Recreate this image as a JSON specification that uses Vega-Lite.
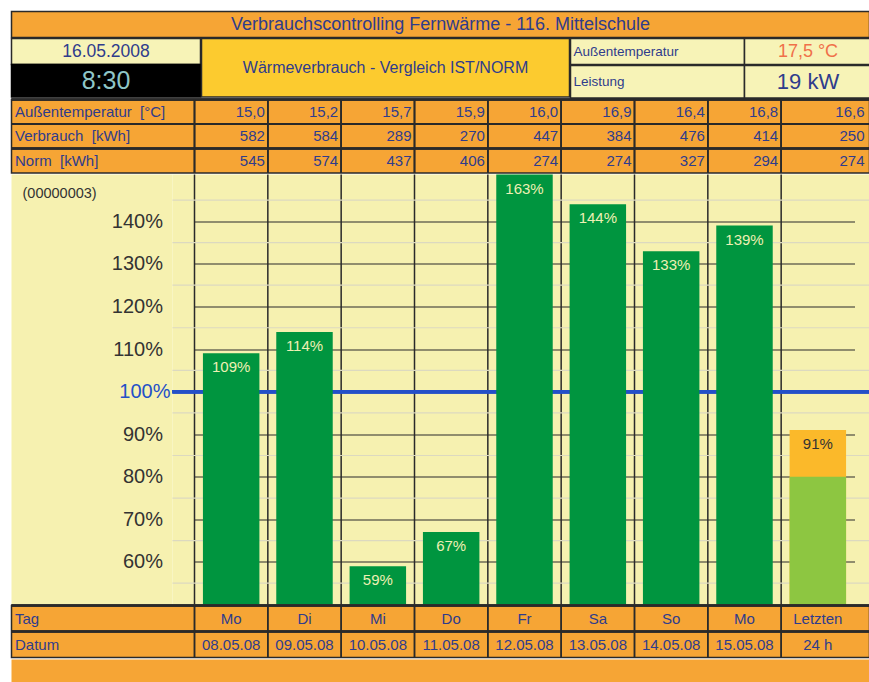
{
  "$schema": "https://vega.github.io/schema/vega-lite/v6.json",
  "padding": {"left": 9.5, "top": 10.5, "right": 0, "bottom": 0},
  "background": "white",
  "spacing": -3,
  "bounds": "full",
  "config": {
    "font": "Liberation Sans",
    "view": {"stroke": null},
    "text": {"font": "Liberation Sans"}
  },
  "datasets": {
    "days": [
      {"tag": "Mo", "dat": "08.05.08", "temp": "15,0", "verb": 582, "norm": 545, "pct": 1.09},
      {"tag": "Di", "dat": "09.05.08", "temp": "15,2", "verb": 584, "norm": 574, "pct": 1.14},
      {"tag": "Mi", "dat": "10.05.08", "temp": "15,7", "verb": 289, "norm": 437, "pct": 0.59},
      {"tag": "Do", "dat": "11.05.08", "temp": "15,9", "verb": 270, "norm": 406, "pct": 0.67},
      {"tag": "Fr", "dat": "12.05.08", "temp": "16,0", "verb": 447, "norm": 274, "pct": 1.63},
      {"tag": "Sa", "dat": "13.05.08", "temp": "16,9", "verb": 384, "norm": 274, "pct": 1.44},
      {"tag": "So", "dat": "14.05.08", "temp": "16,4", "verb": 476, "norm": 327, "pct": 1.33},
      {"tag": "Mo", "dat": "15.05.08", "temp": "16,8", "verb": 414, "norm": 294, "pct": 1.39},
      {"tag": "Letzten", "dat": "24 h", "temp": "16,6", "verb": 250, "norm": 274, "pct": 0.91, "teil": 0.80}
    ]
  },
  "vconcat": [
    {
      "width": 858, "height": 26,
      "view": {"fill": "#F6A535", "stroke": "#2a2a2a", "strokeWidth": 1.5},
      "data": {"values": [{"t": "Verbrauchscontrolling Fernwärme - 116. Mittelschule"}]},
      "mark": {"type": "text", "fontSize": 18, "color": "#2F3C8C"},
      "encoding": {"text": {"field": "t"}}
    },
    {
      "spacing": -3, "bounds": "full",
      "hconcat": [
        {
          "spacing": 0, "bounds": "flush",
          "vconcat": [
            {
              "width": 189, "height": 26,
              "view": {"fill": "#F7F3B7", "stroke": "#2a2a2a", "strokeWidth": 1.5},
              "data": {"values": [{"t": "16.05.2008"}]},
              "mark": {"type": "text", "fontSize": 17.5, "color": "#2F3C8C"},
              "encoding": {"text": {"field": "t"}}
            },
            {
              "width": 189, "height": 32.5,
              "view": {"fill": "#000000", "stroke": "#000000", "strokeWidth": 1.5},
              "data": {"values": [{"t": "8:30"}]},
              "mark": {"type": "text", "fontSize": 25, "color": "#8FC6C7"},
              "encoding": {"text": {"field": "t"}}
            }
          ]
        },
        {
          "width": 368, "height": 58.5,
          "view": {"fill": "#FCCB2F", "stroke": "#2a2a2a", "strokeWidth": 1.5},
          "data": {"values": [{"t": "Wärmeverbrauch - Vergleich IST/NORM"}]},
          "mark": {"type": "text", "fontSize": 16, "color": "#2F3C8C"},
          "encoding": {"text": {"field": "t"}}
        },
        {
          "spacing": -3, "bounds": "full",
          "vconcat": [
            {
              "spacing": 0, "bounds": "flush",
              "hconcat": [
                {
                  "width": 174, "height": 26,
                  "view": {"fill": "#F7F3B7", "stroke": "#2a2a2a", "strokeWidth": 1.5},
                  "data": {"values": [{"t": "Außentemperatur"}]},
                  "mark": {"type": "text", "fontSize": 13.5, "color": "#2F3C8C", "align": "left", "x": 3},
                  "encoding": {"text": {"field": "t"}}
                },
                {
                  "width": 127, "height": 26,
                  "view": {"fill": "#F7F3B7", "stroke": "#2a2a2a", "strokeWidth": 1.5},
                  "data": {"values": [{"t": "17,5 °C"}]},
                  "mark": {"type": "text", "fontSize": 18, "color": "#F0704A"},
                  "encoding": {"text": {"field": "t"}}
                }
              ]
            },
            {
              "spacing": 0, "bounds": "flush",
              "hconcat": [
                {
                  "width": 174, "height": 32.5,
                  "view": {"fill": "#F7F3B7", "stroke": "#2a2a2a", "strokeWidth": 1.5},
                  "data": {"values": [{"t": "Leistung"}]},
                  "mark": {"type": "text", "fontSize": 13.5, "color": "#2F3C8C", "align": "left", "x": 3},
                  "encoding": {"text": {"field": "t"}}
                },
                {
                  "width": 127, "height": 32.5,
                  "view": {"fill": "#F7F3B7", "stroke": "#2a2a2a", "strokeWidth": 1.5},
                  "data": {"values": [{"t": "19 kW"}]},
                  "mark": {"type": "text", "fontSize": 22, "color": "#2F3C8C"},
                  "encoding": {"text": {"field": "t"}}
                }
              ]
            }
          ]
        }
      ]
    },
    {
      "width": 858, "height": 73.5,
      "view": {"fill": "#F6A535", "stroke": "#2a2a2a", "strokeWidth": 1.5},
      "data": {"name": "days"},
      "transform": [{"fold": ["temp", "verb", "norm"], "as": ["row", "val"]}],
      "layer": [
        {
          "mark": {"type": "rule", "color": "#2a2a2a", "strokeWidth": 1.5},
          "encoding": {
            "y": {"field": "row", "type": "nominal", "bandPosition": 0,
              "scale": {"domain": ["temp", "verb", "norm"], "paddingInner": 0, "paddingOuter": 0}}
          }
        },
        {
          "mark": {"type": "rule", "color": "#2a2a2a", "strokeWidth": 1.5},
          "encoding": {
            "x": {"field": "dat", "type": "nominal", "bandPosition": 0,
              "scale": {"domain": ["08.05.08", "09.05.08", "10.05.08", "11.05.08", "12.05.08", "13.05.08", "14.05.08", "15.05.08", "24 h"], "range": [183, 843], "paddingInner": 0, "paddingOuter": 0},
              "axis": null}
          }
        },
        {
          "transform": [{"filter": "datum.dat != '24 h'"}],
          "mark": {"type": "text", "align": "right", "dx": -3, "fontSize": 15, "color": "#2F3C8C"},
          "encoding": {
            "x": {"field": "dat", "type": "nominal", "bandPosition": 1, "axis": null},
            "y": {"field": "row", "type": "nominal",
              "axis": {
                "orient": "left", "title": null, "domain": false, "ticks": false, "tickSize": 0, "grid": false,
                "labelPadding": -3, "labelAlign": "left", "labelFontSize": 15, "labelColor": "#2F3C8C",
                "labelFont": "Liberation Sans", "labelLimit": 0, "zindex": 1,
                "labelExpr": "datum.value == 'temp' ? 'Außentemperatur\u00a0 [°C]' : datum.value == 'verb' ? 'Verbrauch\u00a0 [kWh]' : 'Norm\u00a0 [kWh]'"
              }
            },
            "text": {"field": "val", "type": "nominal"}
          }
        },
        {
          "transform": [{"filter": "datum.dat == '24 h'"}],
          "mark": {"type": "text", "align": "right", "dx": 10, "fontSize": 15, "color": "#2F3C8C"},
          "encoding": {
            "x": {"field": "dat", "type": "nominal", "bandPosition": 1, "axis": null},
            "y": {"field": "row", "type": "nominal"},
            "text": {"field": "val", "type": "nominal"}
          }
        }
      ]
    },
    {
      "spacing": 0, "bounds": "flush",
      "hconcat": [
        {
          "width": 161, "height": 430,
          "view": {"fill": "#F6F1B0", "stroke": "transparent", "strokeWidth": 1.5},
          "data": {"values": [{"t": "(00000003)"}]},
          "mark": {"type": "text", "fontSize": 14.5, "color": "#333333", "align": "left", "x": 11, "y": 19},
          "encoding": {"text": {"field": "t"}}
        },
        {
          "width": 697, "height": 430,
          "view": {"fill": "#F6F1B0", "stroke": null},
          "data": {"name": "days"},
          "layer": [
            {
              "mark": {"type": "rule", "color": "#2a2a2a", "strokeWidth": 1.5},
              "encoding": {
                "x": {"field": "dat", "type": "nominal", "bandPosition": 0,
                  "scale": {"domain": ["08.05.08", "09.05.08", "10.05.08", "11.05.08", "12.05.08", "13.05.08", "14.05.08", "15.05.08", "24 h"], "range": [22, 682], "paddingInner": 0, "paddingOuter": 0},
                  "axis": null}
              }
            },
            {
              "data": {"values": [{"g": 0.55}, {"g": 0.65}, {"g": 0.75}, {"g": 0.85}, {"g": 0.95}, {"g": 1.05}, {"g": 1.15}, {"g": 1.25}, {"g": 1.35}, {"g": 1.45}]},
              "mark": {"type": "rule", "color": "#DCD9C0", "strokeWidth": 1.2},
              "encoding": {
                "y": {"field": "g", "type": "quantitative"}
              }
            },
            {
              "mark": {"type": "rule", "color": "#2450C8", "strokeWidth": 3},
              "encoding": {
                "y": {"datum": 1, "type": "quantitative"}
              }
            },
            {
              "transform": [{"filter": "datum.dat != '24 h'"}],
              "mark": {"type": "bar", "color": "#00953F", "width": {"band": 0.77}},
              "encoding": {
                "x": {"field": "dat", "type": "nominal", "axis": null},
                "y": {"field": "pct", "type": "quantitative",
                  "scale": {"domain": [0.5, 1.51], "clamp": true, "zero": false, "nice": false},
                  "axis": {
                    "orient": "left", "title": null, "domain": false,
                    "values": [0.6, 0.7, 0.8, 0.9, 1, 1.1, 1.2, 1.3, 1.4],
                    "format": ".0%",
                    "labelExpr": "datum.value == 1 ? '' : datum.label",
                    "labelOverlap": false, "labelFlush": false,
                    "grid": true, "gridWidth": 1.2, "gridColor": "#2a2a2a",
                    "ticks": false, "tickSize": 0,
                    "labelPadding": 10, "labelFontSize": 20, "labelFont": "Liberation Sans",
                    "labelColor": "#333333"
                  }
                },
                "y2": {"datum": 0.5}
              }
            },
            {
              "transform": [{"filter": "datum.dat == '24 h'"}],
              "mark": {"type": "bar", "color": "#FBB92A", "width": {"band": 0.77}},
              "encoding": {
                "x": {"field": "dat", "type": "nominal"},
                "y": {"field": "pct", "type": "quantitative"},
                "y2": {"datum": 0.5}
              }
            },
            {
              "transform": [{"filter": "datum.dat == '24 h'"}],
              "mark": {"type": "bar", "color": "#8DC641", "width": {"band": 0.77}},
              "encoding": {
                "x": {"field": "dat", "type": "nominal"},
                "y": {"field": "teil", "type": "quantitative"},
                "y2": {"datum": 0.5}
              }
            },
            {
              "mark": {"type": "text", "baseline": "top", "dy": 7, "fontSize": 15},
              "encoding": {
                "x": {"field": "dat", "type": "nominal"},
                "y": {"field": "pct", "type": "quantitative"},
                "text": {"field": "pct", "type": "quantitative", "format": ".0%"},
                "color": {"condition": {"test": "datum.dat == '24 h'", "value": "#333333"}, "value": "#EEF0B4"}
              }
            },
            {
              "data": {"values": [{"lbl": "100%", "v": 1}]},
              "mark": {"type": "text", "align": "right", "baseline": "middle", "dx": -350.5, "fontSize": 20, "color": "#2450C8"},
              "encoding": {
                "y": {"field": "v", "type": "quantitative"},
                "text": {"field": "lbl"}
              }
            }
          ]
        }
      ]
    },
    {
      "width": 858, "height": 52,
      "view": {"fill": "#F6A535", "stroke": "#2a2a2a", "strokeWidth": 1.5},
      "data": {"name": "days"},
      "transform": [{"fold": ["tag", "dat"], "as": ["row", "val"]}],
      "layer": [
        {
          "mark": {"type": "rule", "color": "#2a2a2a", "strokeWidth": 1.5},
          "encoding": {
            "y": {"field": "row", "type": "nominal", "bandPosition": 0,
              "scale": {"domain": ["tag", "dat"], "paddingInner": 0, "paddingOuter": 0}}
          }
        },
        {
          "mark": {"type": "rule", "color": "#2a2a2a", "strokeWidth": 1.5},
          "encoding": {
            "x": {"field": "dat", "type": "nominal", "bandPosition": 0,
              "scale": {"domain": ["08.05.08", "09.05.08", "10.05.08", "11.05.08", "12.05.08", "13.05.08", "14.05.08", "15.05.08", "24 h"], "range": [183, 843], "paddingInner": 0, "paddingOuter": 0},
              "axis": null}
          }
        },
        {
          "mark": {"type": "text", "fontSize": 15, "color": "#2F3C8C"},
          "encoding": {
            "x": {"field": "dat", "type": "nominal", "axis": null},
            "y": {"field": "row", "type": "nominal",
              "axis": {
                "orient": "left", "title": null, "domain": false, "ticks": false, "tickSize": 0, "grid": false,
                "labelPadding": -3, "labelAlign": "left", "labelFontSize": 15, "labelColor": "#2F3C8C",
                "labelFont": "Liberation Sans", "labelLimit": 0, "zindex": 1,
                "labelExpr": "datum.value == 'tag' ? 'Tag' : 'Datum'"
              }
            },
            "text": {"field": "val", "type": "nominal"}
          }
        }
      ]
    },
    {
      "width": 858, "height": 25,
      "view": {"fill": "#F6A535", "stroke": "transparent", "strokeWidth": 1.5},
      "data": {"values": [{"t": ""}]},
      "mark": {"type": "text"},
      "encoding": {"text": {"field": "t"}}
    }
  ]
}
